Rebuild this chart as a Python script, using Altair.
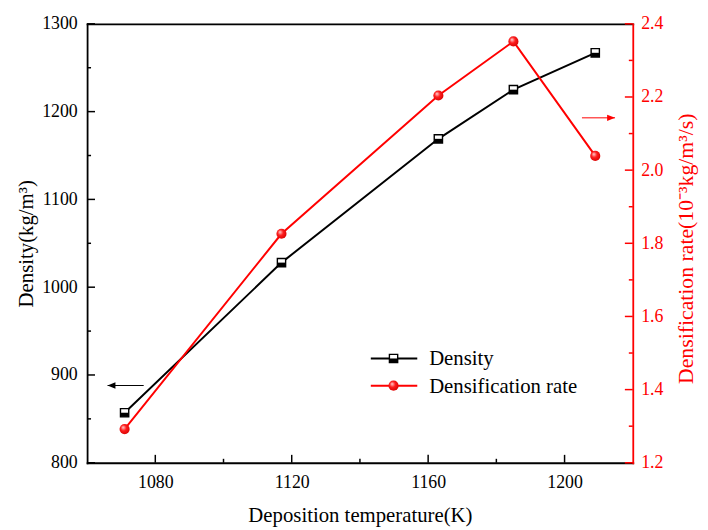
import altair as alt
import pandas as pd

# ---------------- data ----------------
temps = [1071, 1117, 1163, 1185, 1209]
density = [857, 1028, 1169, 1225, 1267]
rate = [1.292, 1.826, 2.204, 2.352, 2.039]
series_names = ["Density", "Densification rate"]

x_ticks = [1080, 1120, 1160, 1200]
x_minor = [1100, 1140, 1180]
left_ticks = [800, 900, 1000, 1100, 1200, 1300]
left_minor = [850, 950, 1050, 1150, 1250]
right_ticks = [1.2, 1.4, 1.6, 1.8, 2.0, 2.2, 2.4]
right_minor = [1.3, 1.5, 1.7, 1.9, 2.1, 2.3]

arrow_left_x = [1076.6, 1066.0]   # tail, tip
arrow_left_y = [888, 888]
arrow_right_x = [1205.1, 1214.8]  # tail, tip
arrow_right_y = [2.143, 2.143]

# ---------------- style ----------------
FONT = "Liberation Serif"
W, H = 552, 444
RED = "#ff0000"
SQ = "M-1,-1H1V1H-1Z"
HALF = "M-1,0H1V1H-1Z"
HEAD_L = "M0,0L2,-0.8L2,0.8Z"
HEAD_R = "M0,0L-2,-0.8L-2,0.8Z"

xscale = alt.Scale(domain=[1060, 1220], nice=False, zero=False)
yL = alt.Scale(domain=[800, 1300], nice=False, zero=False)
yR = alt.Scale(domain=[1.2, 2.4], nice=False, zero=False)

sphere = alt.RadialGradient(
    gradient="radial",
    stops=[alt.GradientStop(offset=0, color="#ffd6d6"),
           alt.GradientStop(offset=0.45, color="#ff1e1e"),
           alt.GradientStop(offset=1, color="#d40000")],
    x1=0.35, y1=0.32, r1=0, x2=0.45, y2=0.45, r2=0.62,
)

df_d = pd.DataFrame({"T": temps, "D": density})
df_r = pd.DataFrame({"T": temps, "R": rate})

x_axis_bottom = alt.Axis(
    orient="bottom", values=x_ticks, format="d", ticks=False, grid=False,
    labelPadding=11, labelFontSize=18, labelFont=FONT, labelColor="black",
    domainColor="black", domainWidth=1.8, domainCap="square",
    title="Deposition temperature(K)", titleFont=FONT, titleFontSize=21,
    titleFontWeight="normal", titleColor="black",
    titleX=W / 2, titleY=59, titleAlign="center", titleBaseline="alphabetic",
)
y_axis_left = alt.Axis(
    orient="left", values=left_ticks, format="d", ticks=False, grid=False,
    labelPadding=10, labelFontSize=18, labelFont=FONT, labelColor="black",
    domainColor="black", domainWidth=1.8, domainCap="square",
    title="Density(kg/m³)", titleFont=FONT, titleFontSize=21,
    titleFontWeight="normal", titleColor="black", titleAngle=270,
    titleX=-55.5, titleY=H / 2, titleAlign="center", titleBaseline="alphabetic",
)
x_axis_top = alt.Axis(
    orient="top", labels=False, ticks=False, grid=False, title="",
    domainColor="black", domainWidth=1.8, domainCap="square",
)
y_axis_right = alt.Axis(
    orient="right", values=right_ticks, format=".1f", ticks=False, grid=False,
    labelPadding=8, labelFontSize=18, labelFont=FONT, labelColor=RED,
    domainColor=RED, domainWidth=1.8, domainCap="square",
    title="Densification rate(10⁻³kg/m³/s)", titleFont=FONT, titleFontSize=22,
    titleFontWeight="normal", titleColor=RED, titleAngle=270,
    titleX=60.5, titleY=227, titleAlign="center", titleBaseline="alphabetic",
)

xT = alt.X("T:Q", scale=xscale)

# ---------------- left (density) group ----------------
base_d = alt.Chart(df_d)
line_d = base_d.mark_line(color="black", strokeWidth=2).encode(
    x=alt.X("T:Q", scale=xscale, axis=x_axis_bottom),
    y=alt.Y("D:Q", scale=yL, axis=y_axis_left),
)
sq_w = base_d.mark_point(shape=SQ, filled=True, fill="white", stroke="black",
                         strokeWidth=1.4, size=70, opacity=1).encode(
    x=xT, y=alt.Y("D:Q", scale=yL))
sq_b = base_d.mark_point(shape=HALF, filled=True, fill="black", strokeWidth=0,
                         size=70, opacity=1).encode(
    x=xT, y=alt.Y("D:Q", scale=yL))

ticks_xmaj = alt.Chart(pd.DataFrame({"v": x_ticks})).mark_rule(color="black", strokeWidth=1.5).encode(
    x=alt.X("v:Q", scale=xscale), y=alt.value(H), y2=alt.value(H - 8))
ticks_xmin = alt.Chart(pd.DataFrame({"v": x_minor})).mark_rule(color="black", strokeWidth=1.5).encode(
    x=alt.X("v:Q", scale=xscale), y=alt.value(H), y2=alt.value(H - 4))
ticks_lmaj = alt.Chart(pd.DataFrame({"v": left_ticks})).mark_rule(color="black", strokeWidth=1.5).encode(
    y=alt.Y("v:Q", scale=yL), x=alt.value(0), x2=alt.value(8))
ticks_lmin = alt.Chart(pd.DataFrame({"v": left_minor})).mark_rule(color="black", strokeWidth=1.5).encode(
    y=alt.Y("v:Q", scale=yL), x=alt.value(0), x2=alt.value(4))

df_al = pd.DataFrame({"x": [arrow_left_x[0]], "x2": [arrow_left_x[1]], "y": [arrow_left_y[0]]})
arrow_l_line = alt.Chart(df_al).mark_rule(color="black", strokeWidth=1).encode(
    x=alt.X("x:Q", scale=xscale), x2="x2:Q",
    y=alt.Y("y:Q", scale=yL))
arrow_l_head = alt.Chart(df_al).mark_point(shape=HEAD_L, filled=True, color="black",
                                           size=64, opacity=1).encode(
    x=alt.X("x2:Q", scale=xscale), y=alt.Y("y:Q", scale=yL))

# legend (density entry)
leg_d = alt.Chart(alt.Data(values=[{"name": series_names[0]}]))
leg_d_line = leg_d.mark_rule(color="black", strokeWidth=2).encode(
    x=alt.value(287), x2=alt.value(334), y=alt.value(338.5))
leg_d_w = leg_d.mark_point(shape=SQ, filled=True, fill="white", stroke="black",
                           strokeWidth=1.4, size=70, opacity=1).encode(
    x=alt.value(310), y=alt.value(338.5))
leg_d_b = leg_d.mark_point(shape=HALF, filled=True, fill="black", strokeWidth=0,
                           size=70, opacity=1).encode(
    x=alt.value(310), y=alt.value(338.5))
leg_d_txt = leg_d.mark_text(align="left", baseline="alphabetic", font=FONT,
                            fontSize=21, color="black").encode(
    x=alt.value(346), y=alt.value(345.5), text="name:N")

left = alt.layer(line_d, sq_w, sq_b, ticks_xmaj, ticks_xmin, ticks_lmaj, ticks_lmin,
                 arrow_l_line, arrow_l_head, leg_d_line, leg_d_w, leg_d_b, leg_d_txt)

# ---------------- right (rate) group ----------------
base_r = alt.Chart(df_r)
line_r = base_r.mark_line(color=RED, strokeWidth=2).encode(
    x=alt.X("T:Q", scale=xscale, axis=x_axis_top),
    y=alt.Y("R:Q", scale=yR, axis=y_axis_right),
)
pts_r = base_r.mark_point(shape="circle", filled=True, fill=sphere, strokeWidth=0,
                          size=105, opacity=1).encode(
    x=xT, y=alt.Y("R:Q", scale=yR))

ticks_rmaj = alt.Chart(pd.DataFrame({"v": right_ticks})).mark_rule(color=RED, strokeWidth=1.5).encode(
    y=alt.Y("v:Q", scale=yR), x=alt.value(W), x2=alt.value(W - 8))
ticks_rmin = alt.Chart(pd.DataFrame({"v": right_minor})).mark_rule(color=RED, strokeWidth=1.5).encode(
    y=alt.Y("v:Q", scale=yR), x=alt.value(W), x2=alt.value(W - 4))

df_ar = pd.DataFrame({"x": [arrow_right_x[0]], "x2": [arrow_right_x[1]], "y": [arrow_right_y[0]]})
arrow_r_line = alt.Chart(df_ar).mark_rule(color=RED, strokeWidth=1).encode(
    x=alt.X("x:Q", scale=xscale), x2="x2:Q",
    y=alt.Y("y:Q", scale=yR))
arrow_r_head = alt.Chart(df_ar).mark_point(shape=HEAD_R, filled=True, color=RED,
                                           size=64, opacity=1).encode(
    x=alt.X("x2:Q", scale=xscale), y=alt.Y("y:Q", scale=yR))

leg_r = alt.Chart(alt.Data(values=[{"name": series_names[1]}]))
leg_r_line = leg_r.mark_rule(color=RED, strokeWidth=2).encode(
    x=alt.value(287), x2=alt.value(334), y=alt.value(366))
leg_r_pt = leg_r.mark_point(shape="circle", filled=True, fill=sphere, strokeWidth=0,
                            size=105, opacity=1).encode(
    x=alt.value(310), y=alt.value(366))
leg_r_txt = leg_r.mark_text(align="left", baseline="alphabetic", font=FONT,
                            fontSize=21, color="black").encode(
    x=alt.value(346), y=alt.value(373), text="name:N")

right = alt.layer(line_r, pts_r, ticks_rmaj, ticks_rmin, arrow_r_line, arrow_r_head,
                  leg_r_line, leg_r_pt, leg_r_txt)

chart = (
    alt.layer(left, right)
    .resolve_scale(y="independent")
    .resolve_axis(x="independent")
    .properties(
        width=W, height=H,
        padding={"left": 80, "top": 13, "right": 68, "bottom": 65},
        autosize=alt.AutoSizeParams(type="none"),
        background="white",
    )
    .configure_view(stroke="transparent")
    .configure(font=FONT)
)

chart.save("out.html", embed_options={"renderer": "svg", "actions": False})
